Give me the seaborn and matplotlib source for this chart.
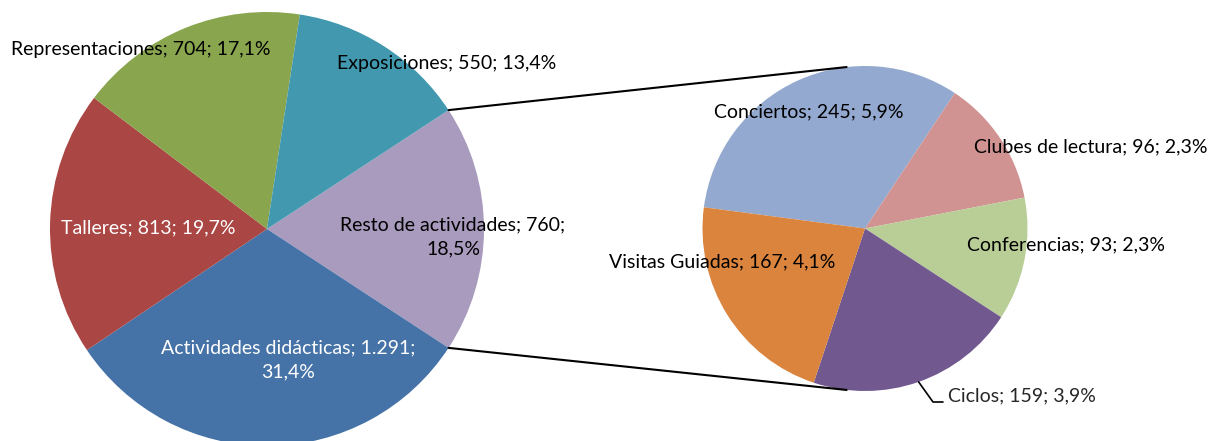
import numpy as np
import matplotlib
matplotlib.use("Agg")
import matplotlib.pyplot as plt
import seaborn as sns

# datos
main_labels = ["Resto de actividades", "Actividades didácticas", "Talleres",
               "Representaciones", "Exposiciones"]
main_values = [760, 1291, 813, 704, 550]
main_colors = ["#A99BBD", "#4572A7", "#AA4643", "#89A54E", "#4198AF"]

sub_labels = ["Conciertos", "Clubes de lectura", "Conferencias", "Ciclos",
              "Visitas Guiadas"]
sub_values = [245, 96, 93, 159, 167]
sub_colors = ["#93A9CF", "#D19392", "#B9CD96", "#71588F", "#DB843D"]

total = sum(main_values)

sns.set_theme(style="white")
plt.rcParams["font.family"] = ["Lato", "DejaVu Sans"]

W, H = 1229, 441
fig = plt.figure(figsize=(W / 100, H / 100), dpi=100)
ax = fig.add_axes([0, 0, 1, 1])

c1, r1 = (267, 212), 217
c2, r2 = (865, 212.5), 162.5

half = 360 * main_values[0] / total / 2
ax.pie(main_values, colors=main_colors, center=c1, radius=r1,
       startangle=half, counterclock=False, frame=True,
       wedgeprops=dict(linewidth=0))
ax.pie(sub_values, colors=sub_colors, center=c2, radius=r2,
       startangle=172.5, counterclock=False, frame=True,
       wedgeprops=dict(linewidth=0))
ax.set_xlim(0, W)
ax.set_ylim(0, H)
ax.set_aspect("equal")
ax.axis("off")


def etiqueta(nombre, valor, wrap=False):
    v = f"{valor:,}".replace(",", ".")
    p = f"{100 * valor / total:.1f}".replace(".", ",") + "%"
    sep = "\n" if wrap else " "
    return f"{nombre}; {v};{sep}{p}"


# posiciones de las etiquetas (px), color, salto de linea
main_pos = [(453, 204, "black", True), (288, 81, "white", True),
            (148, 213, "white", False), (141, 392, "black", False),
            (447, 377, "black", False)]
sub_pos = [(809, 329, "black", False), (1091, 294, "black", False),
           (1066, 196, "black", False), None, (722, 179, "black", False)]

fs = 14
for lab, val, pos in zip(main_labels, main_values, main_pos):
    x, y, col, wrap = pos
    ax.text(x, y, etiqueta(lab, val, wrap), ha="center", va="center",
            color=col, fontsize=fs, linespacing=1.5)
for lab, val, pos in zip(sub_labels, sub_values, sub_pos):
    if pos is None:
        continue
    x, y, col, wrap = pos
    ax.text(x, y, etiqueta(lab, val, wrap), ha="center", va="center",
            color=col, fontsize=fs)

# Ciclos con linea guia
ang = np.deg2rad(172.5 - 360 * (sum(sub_values[:3]) + sub_values[3] / 2) / sum(sub_values))
p0 = (c2[0] + r2 * np.cos(ang), c2[1] + r2 * np.sin(ang))
ax.plot([p0[0], 933, 943], [p0[1], 39, 39], color="black", lw=1.2)
ax.text(948, 45, etiqueta(sub_labels[3], sub_values[3]), ha="left",
        va="center", fontsize=fs)

# lineas de conexion
for s in (1, -1):
    a1 = np.deg2rad(s * half)
    a2 = np.deg2rad(90 + 6.5 if s > 0 else 270 - 6.5)
    ax.plot([c1[0] + r1 * np.cos(a1), c2[0] + r2 * np.cos(a2)],
            [c1[1] + r1 * np.sin(a1), c2[1] + r2 * np.sin(a2)],
            color="black", lw=1.5)

fig.savefig("out.png", dpi=100)
